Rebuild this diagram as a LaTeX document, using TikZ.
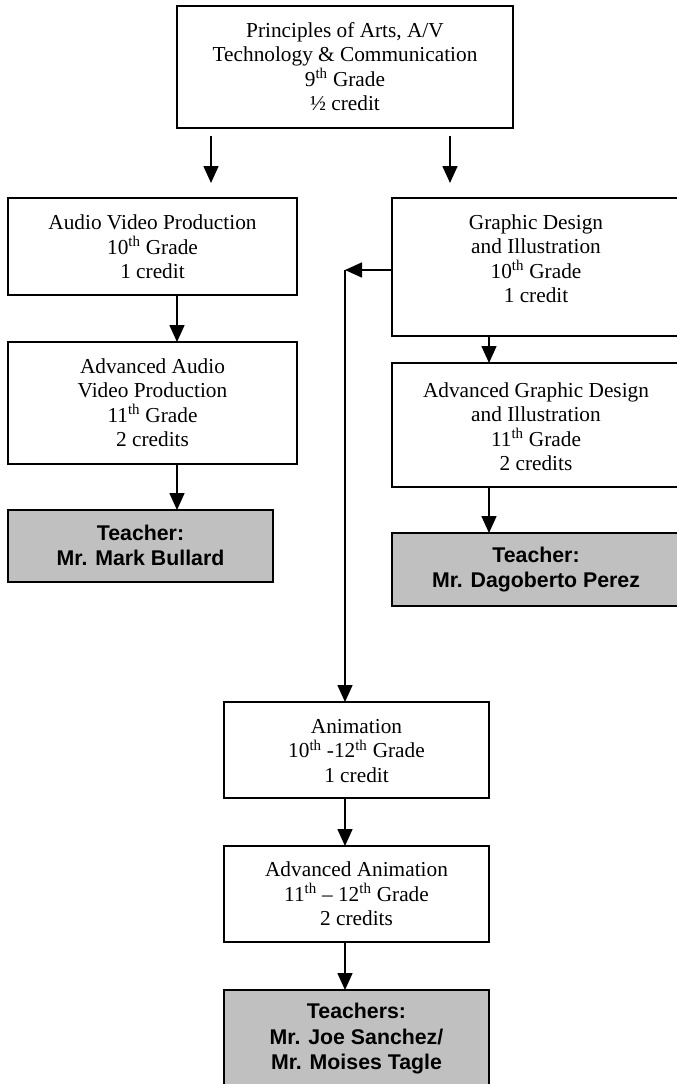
\documentclass[tikz,border=0pt]{standalone}
\usepackage{fontspec}
\setmainfont{Liberation Serif}
\setsansfont{Liberation Sans}
\usetikzlibrary{arrows.meta}
\definecolor{boxgray}{RGB}{192,192,192}
\begin{document}
\begin{tikzpicture}[x=1pt,y=-1pt,
  box/.style={draw, line width=1.8pt, anchor=north west, inner sep=0pt, outer sep=0pt},
  tbox/.style={box, fill=boxgray},
  txt/.style={align=center, font=\fontsize{21.3}{24.5}\selectfont, inner sep=0pt},
  ttxt/.style={align=center, font=\sffamily\bfseries\fontsize{21.3}{25.5}\selectfont, inner sep=0pt},
  arr/.style={line width=1.6pt, -{Triangle[width=15pt,length=17pt]}}]
\useasboundingbox (0,0) rectangle (677,1084);
\fill[white] (0,0) rectangle (677,1084);

% boxes
\node[box, minimum width=336pt, minimum height=122pt] (top) at (177,6) {};
\node[box, minimum width=289pt, minimum height=97pt] (avp) at (8,198) {};
\node[box, minimum width=289pt, minimum height=122pt] (aavp) at (8,342) {};
\node[tbox, minimum width=265pt, minimum height=72pt] (mark) at (8,510) {};
\node[box, minimum width=288pt, minimum height=138pt] (gd) at (392,198) {};
\node[box, minimum width=288pt, minimum height=124pt] (agd) at (392,363) {};
\node[tbox, minimum width=288pt, minimum height=73pt] (perez) at (392,533) {};
\node[box, minimum width=265pt, minimum height=96pt] (anim) at (224,702) {};
\node[box, minimum width=265pt, minimum height=96pt] (aa) at (224,846) {};
\node[tbox, minimum width=265pt, minimum height=104pt] (teach) at (224,990) {};

% texts
\node[txt] (topt) at (345,66.5) {Principles of Arts, A/V\\Technology \& Communication\\9\textsuperscript{th} Grade\\½ credit};
\node[txt] (avpt) at (152.5,247) {Audio Video Production\\10\textsuperscript{th} Grade\\1 credit};
\node[txt] (aavpt) at (152.5,402.5) {Advanced Audio\\Video Production\\11\textsuperscript{th} Grade\\2 credits};
\node[ttxt] (markt) at (140.5,545.5) {Teacher:\\Mr. Mark Bullard};
\node[txt] (gdt) at (536,258.5) {Graphic Design\\and Illustration\\10\textsuperscript{th} Grade\\1 credit};
\node[txt] (agdt) at (536,426.5) {Advanced Graphic Design\\and Illustration\\11\textsuperscript{th} Grade\\2 credits};
\node[ttxt] (perezt) at (536,569.5) {Teacher:\\Mr. Dagoberto Perez};
\node[txt] (animt) at (356.5,751) {Animation\\10\textsuperscript{th} -12\textsuperscript{th} Grade\\1 credit};
\node[txt] (aat) at (356.5,894) {Advanced Animation\\11\textsuperscript{th} -- 12\textsuperscript{th} Grade\\2 credits};
\node[ttxt] (teacht) at (356.5,1039) {Teachers:\\Mr. Joe Sanchez/\\Mr. Moises Tagle};

% connector helpers
\coordinate (a1s) at (211,136);
\coordinate (a1e) at (211,183);
\coordinate (a2s) at (450,136);
\coordinate (a2e) at (450,183);
\coordinate (lx) at (177,0);
\coordinate (rx) at (489,0);
\coordinate (fb) at (345,270);

% connectors
\draw[arr] (a1s) -- (a1e);
\draw[arr] (a2s) -- (a2e);
\draw[arr] (avp.south -| lx) -- (aavp.north -| lx);
\draw[arr] (aavp.south -| lx) -- (mark.north -| lx);
\draw[arr] (gd.south -| rx) -- (agd.north -| rx);
\draw[arr] (agd.south -| rx) -- (perez.north -| rx);
\draw[arr] (gd.west |- fb) -- (fb);
\draw[arr] (fb) -- (fb |- anim.north);
\draw[arr] (anim.south -| fb) -- (aa.north -| fb);
\draw[arr] (aa.south -| fb) -- (teach.north -| fb);
\end{tikzpicture}
\end{document}
